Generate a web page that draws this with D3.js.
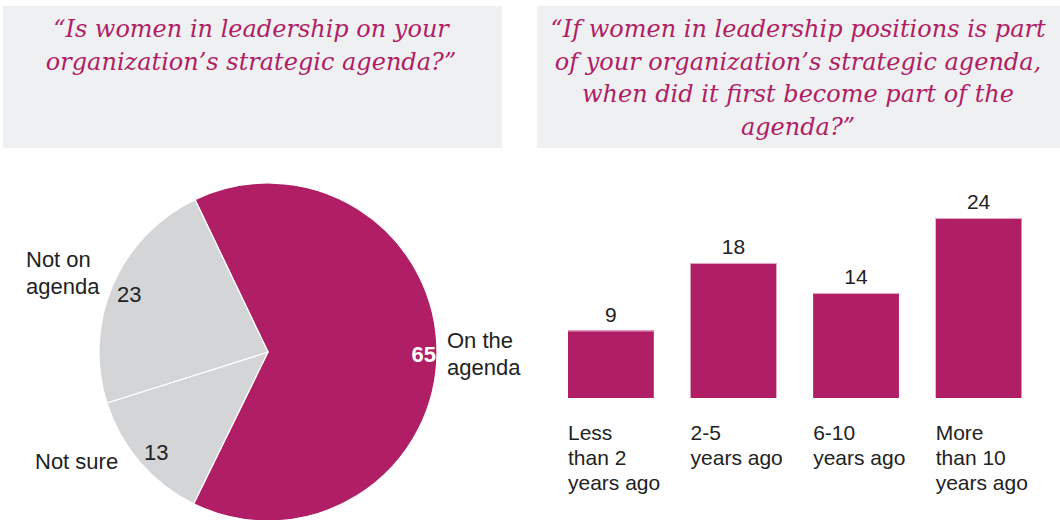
<!DOCTYPE html>
<html><head><meta charset="utf-8">
<script src="https://cdn.jsdelivr.net/npm/d3@7"></script>
<style>body{margin:0;background:#fff}svg{display:block}</style>
</head><body>
<svg id="c" width="1060" height="520"></svg>
<script>
const pieTitle = ["“Is women in leadership on your", "organization’s strategic agenda?”"];
const barTitle = ["“If women in leadership positions is part", "of your organization’s strategic agenda,", "when did it first become part of the", "agenda?”"];
const pieCategories = ["On the agenda", "Not sure", "Not on agenda"];
const pieValues = [65, 13, 23];
const barCategories = ["Less than 2 years ago", "2-5 years ago", "6-10 years ago", "More than 10 years ago"];
const barLabelLines = [["Less", "than 2", "years ago"], ["2-5", "years ago"], ["6-10", "years ago"], ["More", "than 10", "years ago"]];
const barValues = [9, 18, 14, 24];

const MAG = "#b01e65", GREY = "#d4d5d7", PANEL = "#eff0f2", TXT = "#222";
const svg = d3.select("#c");
const sans = "'Liberation Sans', Arial, sans-serif";
const serif = "'DejaVu Serif', Georgia, serif";

// title panels
function panel(x, w, lines, cx) {
  svg.append("rect").attr("x", x).attr("y", 6).attr("width", w).attr("height", 142).attr("fill", PANEL);
  const t = svg.append("text").attr("x", cx).attr("text-anchor", "middle")
    .attr("font-family", serif).attr("font-style", "italic").attr("font-size", 24).attr("fill", MAG);
  lines.forEach((l, i) => t.append("tspan").attr("x", cx).attr("y", 37 + i * 32.5).text(l));
}
panel(3, 499, pieTitle, 251);
panel(537, 523, barTitle, 798);

// pie
const cx = 268, cy = 352, r = 169;
const start = -25.6 * Math.PI / 180;
const pie = d3.pie().sort(null).startAngle(start).endAngle(start + 2 * Math.PI);
const arcs = pie(pieValues);
const arc = d3.arc().innerRadius(0).outerRadius(r);
const g = svg.append("g").attr("transform", `translate(${cx},${cy})`);
g.selectAll("path").data(arcs).join("path")
  .attr("d", arc).attr("fill", (d, i) => i === 0 ? MAG : GREY)
  .attr("stroke", "#fff").attr("stroke-width", 1.2);

const T = (x, y, s, opts = {}) => svg.append("text").attr("x", x).attr("y", y)
  .attr("font-family", sans).attr("font-size", opts.size || 22).attr("fill", opts.fill || TXT)
  .attr("font-weight", opts.weight || "normal").attr("text-anchor", opts.anchor || "start").text(s);

T(436, 362, pieValues[0], {fill: "#fff", weight: "bold", anchor: "end"});
T(447, 348, "On the"); T(447, 375, "agenda");
T(117, 302, pieValues[2]);
T(26, 267, "Not on"); T(26, 294, "agenda");
T(144, 460, pieValues[1]);
T(35, 469, "Not sure");

// bars
const x = d3.scaleBand().domain(barCategories).range([568, 1021.5]).paddingInner(0.3).paddingOuter(0);
const y = d3.scaleLinear().domain([0, 24]).range([398, 218]);
svg.selectAll("rect.bar").data(barValues).join("rect").attr("class", "bar")
  .attr("x", (d, i) => x(barCategories[i])).attr("width", x.bandwidth())
  .attr("y", d => y(d)).attr("height", d => y(0) - y(d)).attr("fill", MAG);
svg.selectAll("line.top").data(barValues).join("line").attr("class", "top")
  .attr("x1", (d, i) => x(barCategories[i])).attr("x2", (d, i) => x(barCategories[i]) + x.bandwidth())
  .attr("y1", d => y(d) + 0.5).attr("y2", d => y(d) + 0.5).attr("stroke", "#e6a3c3").attr("stroke-width", 1);
barValues.forEach((v, i) => {
  T(x(barCategories[i]) + x.bandwidth() / 2, y(v) - 9, v, {anchor: "middle", size: 21});
  barLabelLines[i].forEach((l, j) => T(x(barCategories[i]), 440 + j * 25, l, {size: 21}));
});
</script>
</body></html>
